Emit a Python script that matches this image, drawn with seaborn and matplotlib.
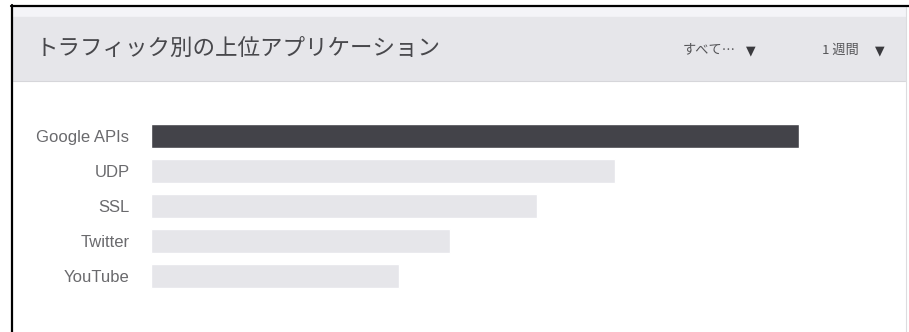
import matplotlib
matplotlib.use("Agg")
import matplotlib.pyplot as plt
from matplotlib.patches import Rectangle
from matplotlib.lines import Line2D
import seaborn as sns
import pandas as pd

# ---- data ----
apps = ["Google APIs", "UDP", "SSL", "Twitter", "YouTube"]
traffic = [648, 464, 386, 299, 248]
title = "トラフィック別の上位アプリケーション"
filter_label = "すべて…"
period_label = "1 週間"
caret = "▼"

sns.set_theme(style="white")
plt.rcParams["font.family"] = ["Noto Sans CJK JP", "DejaVu Sans"]

W, H = 909, 332
fig = plt.figure(figsize=(W / 100, H / 100), dpi=100, facecolor="white")

def fx(px):
    return px / W

def fy(py):
    return 1 - py / H

# panel decorations
fig.patches.append(Rectangle((fx(13), fy(17)), fx(905) - fx(13), fy(7) - fy(17),
                             transform=fig.transFigure, color="#f4f4f8", zorder=0))
fig.patches.append(Rectangle((fx(13), fy(80)), fx(905) - fx(13), fy(17) - fy(80),
                             transform=fig.transFigure, color="#e6e6ea", zorder=0))
fig.lines.append(Line2D([fx(13), fx(905)], [fy(80.5), fy(80.5)], transform=fig.transFigure,
                        color="#d6d6da", lw=0.8))
fig.lines.append(Line2D([fx(905.5), fx(905.5)], [fy(7), 0], transform=fig.transFigure,
                        color="#dcdcdf", lw=0.8))
fig.lines.append(Line2D([fx(11), fx(909)], [fy(6), fy(6)], transform=fig.transFigure,
                        color="black", lw=1.6))
fig.lines.append(Line2D([fx(12), fx(12)], [fy(5), 0], transform=fig.transFigure,
                        color="black", lw=1.6))

fig.text(fx(36), fy(48), title, fontsize=16.2, color="#48484c", va="center", ha="left")
fig.text(fx(683), fy(50), filter_label, fontsize=9.5, color="#555558", va="center", ha="left")
fig.text(fx(822), fy(50), period_label, fontsize=9.5, color="#555558", va="center", ha="left")
fig.text(fx(750.5), fy(51), caret, fontsize=9, color="#3a3a3e", va="center", ha="center",
         family="DejaVu Sans")
fig.text(fx(879.5), fy(51), caret, fontsize=9, color="#3a3a3e", va="center", ha="center",
         family="DejaVu Sans")

# bar chart
left_px, right_px = 151, 880
top_px, bot_px = 118.5, 293.5
ax = fig.add_axes([fx(left_px), fy(bot_px), fx(right_px) - fx(left_px), fy(top_px) - fy(bot_px)])
df = pd.DataFrame({"app": apps, "traffic": traffic})
palette = ["#434349"] + ["#e6e6ea"] * (len(apps) - 1)
sns.barplot(data=df, y="app", x="traffic", hue="app", palette=palette, legend=False,
            orient="h", width=24 / 35, ax=ax, saturation=1)
ax.set_xlim(0, right_px - left_px)
ax.set_ylim(len(apps) - 0.5, -0.5)
ax.set_xlabel("")
ax.set_ylabel("")
ax.set_xticks([])
ax.tick_params(axis="y", length=0, pad=15.5, labelsize=12, labelcolor="#6a6a6d")
for lbl in ax.get_yticklabels():
    lbl.set_family("Liberation Sans")
for s in ax.spines.values():
    s.set_visible(False)
ax.set_facecolor("none")

fig.savefig("out.png", dpi=100, facecolor="white")
